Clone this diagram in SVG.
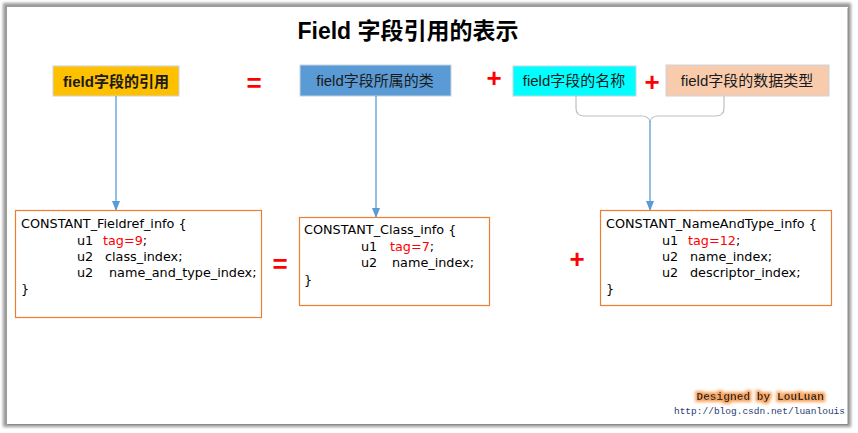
<svg xmlns="http://www.w3.org/2000/svg" width="858" height="433" viewBox="0 0 858 433">
<defs>
<filter id="sh" x="-5%" y="-5%" width="110%" height="110%"><feGaussianBlur stdDeviation="1.6"/></filter>
<filter id="glow" x="-10%" y="-40%" width="120%" height="180%">
<feMorphology in="SourceAlpha" operator="dilate" radius="2" result="d"/>
<feGaussianBlur in="d" stdDeviation="1.8" result="b"/>
<feFlood flood-color="#F9A25A"/>
<feComposite in2="b" operator="in" result="g"/>
<feMerge><feMergeNode in="g"/><feMergeNode in="SourceGraphic"/></feMerge>
</filter>
<marker id="ar" markerWidth="10" markerHeight="8" refX="9" refY="4" orient="auto" markerUnits="userSpaceOnUse">
<path d="M0,0 L10,4 L0,8 z" fill="#5B9BD5"/>
</marker>
<style>
.lbl{font-family:"Liberation Sans Narrow","Liberation Sans","Noto Sans CJK SC",sans-serif;font-size:15px;text-anchor:middle;fill:#1a1a1a}
.op{font-family:"Liberation Sans",sans-serif;font-weight:bold;font-size:26px;fill:#FF0000;text-anchor:middle}
.code{font-family:"Comic Sans MS","DejaVu Sans","Liberation Sans",sans-serif;font-size:12.8px;fill:#000}
.red{fill:#FF0000}
.cbox{fill:#fff;stroke:#ED7D31;stroke-width:1.2}
.tbox{stroke:#C9D3E0;stroke-width:1}
.conn{stroke:#5B9BD5;stroke-width:1.3;fill:none;marker-end:url(#ar)}
</style>
</defs>
<rect width="858" height="433" fill="#fff"/>
<rect x="3" y="3" width="848" height="424" fill="#9a9a9a" filter="url(#sh)"/>
<rect x="7" y="7" width="841" height="417" fill="#fff"/>
<line x1="848" y1="8" x2="848" y2="424" stroke="#8a8a8a" stroke-width="1"/>
<line x1="8" y1="424.5" x2="848" y2="424.5" stroke="#8a8a8a" stroke-width="1"/>

<text x="408" y="39" font-family="'Liberation Sans','Noto Sans CJK SC',sans-serif" font-weight="bold" font-size="23" text-anchor="middle" fill="#000">Field 字段引用的表示</text>

<g id="n-ref">
<rect class="tbox" x="53" y="66" width="126" height="30" fill="#FFC000"/>
<text class="lbl" x="116" y="87" font-weight="bold">field字段的引用</text>
</g>
<text class="op" x="254" y="92">=</text>
<g id="n-class">
<rect class="tbox" x="300" y="65" width="151" height="31" fill="#5B9BD5"/>
<text class="lbl" x="375" y="86">field字段所属的类</text>
</g>
<text class="op" x="494" y="87">+</text>
<g id="n-name">
<rect class="tbox" x="513" y="66" width="123" height="30" fill="#00FFFF"/>
<text class="lbl" x="574" y="86">field字段的名称</text>
</g>
<text class="op" x="652" y="91">+</text>
<g id="n-type">
<rect class="tbox" x="666" y="65" width="163" height="31" fill="#F8CBAD"/>
<text class="lbl" x="747" y="86">field字段的数据类型</text>
</g>
<g id="brace">
<path d="M576,96 V108 Q576,116 584,116 H642 Q649,116 650,122 Q651,116 658,116 H716 Q724,116 724,108 V96" fill="none" stroke="#BFBFBF" stroke-width="1.2"/>
</g>

<g id="connectors">
<line class="conn" x1="116" y1="96" x2="116" y2="210"/>
<line class="conn" x1="376" y1="96" x2="376" y2="217"/>
<line class="conn" x1="650" y1="121" x2="650" y2="210"/>
</g>

<g id="c-fieldref">
<rect class="cbox" x="15.5" y="210.5" width="246" height="107"/>
<text class="code" x="21" y="228">CONSTANT_Fieldref_info {</text>
<text class="code" x="77" y="245">u1<tspan class="red" x="103">tag=9</tspan>;</text>
<text class="code" x="77" y="261">u2<tspan x="105">class_index;</tspan></text>
<text class="code" x="77" y="277">u2<tspan x="109">name_and_type_index;</tspan></text>
<text class="code" x="21" y="293">}</text>
</g>
<text class="op" x="280" y="273">=</text>
<g id="c-class">
<rect class="cbox" x="299.5" y="217.5" width="190" height="88"/>
<text class="code" x="304" y="234">CONSTANT_Class_info {</text>
<text class="code" x="361" y="251">u1<tspan class="red" x="390">tag=7</tspan>;</text>
<text class="code" x="361" y="267">u2<tspan x="392">name_index;</tspan></text>
<text class="code" x="304" y="284">}</text>
</g>
<text class="op" x="577" y="268">+</text>
<g id="c-nat">
<rect class="cbox" x="600.5" y="210.5" width="231" height="95"/>
<text class="code" x="606" y="228">CONSTANT_NameAndType_info {</text>
<text class="code" x="662" y="245">u1<tspan class="red" x="688">tag=12</tspan>;</text>
<text class="code" x="662" y="261">u2<tspan x="690">name_index;</tspan></text>
<text class="code" x="662" y="277">u2<tspan x="690">descriptor_index;</tspan></text>
<text class="code" x="606" y="293">}</text>
</g>

<text x="824" y="400" font-family="'Liberation Mono',monospace" font-weight="bold" font-size="11.2" fill="#333" text-anchor="end" filter="url(#glow)">Designed by LouLuan</text>
<text x="845" y="414" font-family="'Liberation Mono',monospace" font-size="9.5" fill="#1F3B73" text-anchor="end">http://blog.csdn.net/luanlouis</text>
</svg>
